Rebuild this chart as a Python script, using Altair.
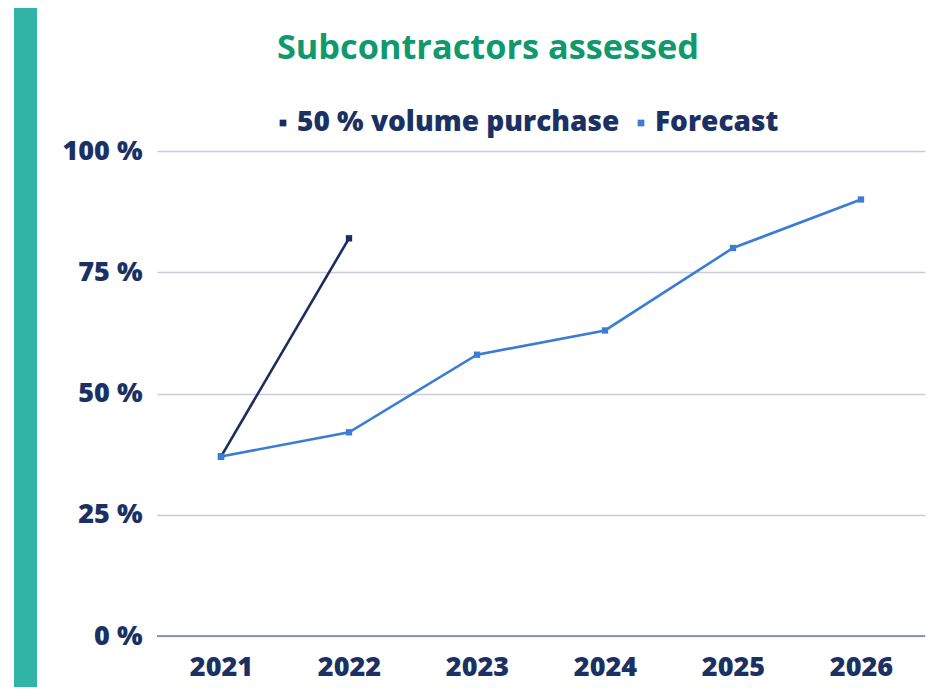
import altair as alt
import pandas as pd

years = ["2021", "2022", "2023", "2024", "2025", "2026"]
purchase_years = ["2021", "2022"]
purchase_values = [37, 82]
forecast_values = [37, 42, 58, 63, 80, 90]
series_names = ["50 % volume purchase", "Forecast"]
series_colors = ["#1b2c5e", "#3b7dd6"]
y_ticks = [0, 25, 50, 75, 100]

rows = []
for y, v in zip(purchase_years, purchase_values):
    rows.append({"year": y, "value": v, "series": series_names[0]})
for y, v in zip(years, forecast_values):
    rows.append({"year": y, "value": v, "series": series_names[1]})
df = pd.DataFrame(rows)

FONT = "Open Sans"
NAVY = "#1c3163"

x_enc = alt.X("year:N", sort=years, scale=alt.Scale(domain=years, paddingOuter=0.5),
              axis=alt.Axis(title=None, labelAngle=0, labelFont=FONT, labelFontSize=27,
                            labelFontWeight=800, labelColor=NAVY, labelPadding=18,
                            ticks=False, domain=False, grid=False))
y_enc = alt.Y("value:Q", scale=alt.Scale(domain=[0, 100], nice=False),
              axis=alt.Axis(title=None, values=y_ticks, labelExpr="datum.value + ' %'",
                            labelFont=FONT, labelFontSize=27, labelFontWeight=800,
                            labelColor=NAVY, labelPadding=15, ticks=False, domain=False,
                            gridColor="#c8ccd9", gridWidth=1.5))
color_scale = alt.Scale(domain=series_names, range=series_colors)

lines = alt.Chart(df).mark_line(strokeWidth=2.6).encode(
    x=x_enc, y=y_enc,
    color=alt.Color("series:N", scale=color_scale, legend=None),
    detail="series:N",
)
points = alt.Chart(df).mark_point(shape="square", filled=True, size=40, opacity=1).encode(
    x=x_enc, y=y_enc,
    color=alt.Color("series:N", scale=color_scale,
                    legend=alt.Legend(title=None, orient="none", direction="horizontal",
                                      legendX=112, legendY=-42, symbolType="square",
                                      symbolSize=45, symbolStrokeWidth=0, labelFont=FONT,
                                      labelFontSize=28, labelFontWeight=800,
                                      labelColor=NAVY, labelOffset=0, columnPadding=7,
                                      labelLimit=600)),
)
zero_line = alt.Chart(pd.DataFrame({"v": [0]})).mark_rule(color="#6e7b99", strokeWidth=1.5).encode(
    y=alt.Y("v:Q", scale=alt.Scale(domain=[0, 100])),
    x=alt.value(0), x2=alt.value(768),
)
teal_left = alt.Chart(pd.DataFrame({"v": [0]})).mark_rect(color="#2fb4a5").encode(
    x=alt.value(-143), x2=alt.value(-120), y=alt.value(-143), y2=alt.value(540),
)

chart = alt.layer(teal_left, zero_line, lines, points).resolve_legend(
    color="independent"
).properties(
    width=768, height=485,
    padding={"left": 149, "top": 143, "right": 16, "bottom": 51},
    autosize=alt.AutoSizeParams(type="none"),
    background="white",
    title=alt.TitleParams("Subcontractors assessed", font=FONT, fontSize=34.3, fontWeight=700,
                          color="#10996d", anchor="middle", frame="group", dx=-53,
                          baseline="alphabetic", offset=-85),
).configure_view(stroke=None)

chart.save("out.html", embed_options={"renderer": "svg", "actions": False})
